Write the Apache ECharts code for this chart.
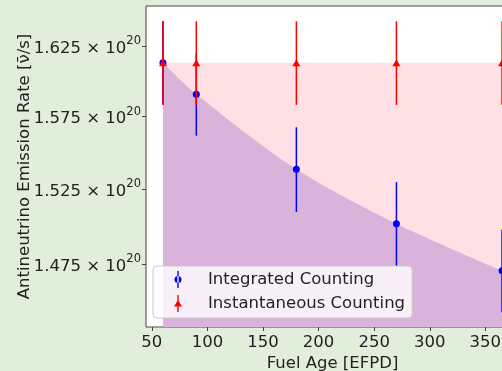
<!DOCTYPE html>
<html>
<head>
<meta charset="utf-8">
<script src="https://cdn.jsdelivr.net/npm/echarts@6/dist/echarts.min.js"></script>
<style>
html, body { margin: 0; padding: 0; background: #e1eedb; }
#chart { width: 502px; height: 371px; }
</style>
</head>
<body>
<div id="chart"></div>
<script>
// values in units of 1e20 antineutrinos / s
var fuelAge = [60, 90, 180, 270, 365];
var integrated = [1.6132, 1.5907, 1.5385, 1.5017, 1.4706];
var integratedErr = [0.030, 0.029, 0.029, 0.028, 0.027];
var instantaneous = [1.6132, 1.6132, 1.6132, 1.6132, 1.6132];
var instantaneousErr = [0.030, 0.030, 0.030, 0.030, 0.030];
var xTicks = [50, 100, 150, 200, 250, 300, 350];
var yTicks = [1.475, 1.525, 1.575, 1.625];

var font = 'DejaVu Sans';
var ink = '#222';
var fs = 16.5;

function pairs(vals) {
  return fuelAge.map(function (x, i) { return [x, vals[i]]; });
}

function errorBars(vals, errs, color, z) {
  return {
    type: 'custom',
    z: z,
    silent: true,
    renderItem: function (params, api) {
      var x = api.value(0);
      var lo = api.coord([x, api.value(1)]);
      var hi = api.coord([x, api.value(2)]);
      return {
        type: 'line',
        shape: { x1: lo[0], y1: lo[1], x2: hi[0], y2: hi[1] },
        style: { stroke: color, lineWidth: 1.5 }
      };
    },
    encode: { x: 0, y: [1, 2] },
    data: fuelAge.map(function (x, i) { return [x, vals[i] - errs[i], vals[i] + errs[i]]; })
  };
}

var chart = echarts.init(document.getElementById('chart'));

var option = {
  backgroundColor: '#e1eedb',
  animation: false,
  textStyle: { fontFamily: font },
  grid: {
    left: 146, top: 6, width: 373, height: 321,
    outerBoundsMode: 'none',
    containLabel: false,
    show: true, backgroundColor: '#fff', borderColor: '#444', borderWidth: 1
  },
  legend: {
    orient: 'vertical',
    left: 153, top: 266,
    padding: [5, 7, 6, 21],
    itemWidth: 8, itemHeight: 17, itemGap: 7,
    backgroundColor: 'rgba(255,255,255,0.8)',
    borderColor: '#ccc', borderWidth: 1, borderRadius: 4,
    textStyle: { fontFamily: font, fontSize: fs, color: ink, padding: [0, 0, 0, 21] },
    data: [
      { name: 'Integrated Counting',
        icon: 'path://M3.3,0H4.7V17H3.3Z M0.5,8.5A3.5,3.5 0 1 0 7.5,8.5A3.5,3.5 0 1 0 0.5,8.5Z',
        itemStyle: { color: '#0000ff' } },
      { name: 'Instantaneous Counting',
        icon: 'path://M3.3,0H4.7V17H3.3Z M4,5L8,11.5L0,11.5Z',
        itemStyle: { color: '#ff0000' } }
    ]
  },
  xAxis: {
    type: 'value',
    min: 44.75, max: 380.25,
    name: 'Fuel Age [EFPD]',
    nameLocation: 'middle', nameGap: 28,
    nameMoveOverlap: false,
    nameTextStyle: { fontFamily: font, fontSize: fs, color: ink },
    axisLine: { show: false },
    axisTick: { show: true, length: 4, lineStyle: { color: '#444' }, customValues: xTicks },
    axisLabel: { fontFamily: font, fontSize: fs, color: ink, margin: 7, customValues: xTicks },
    splitLine: { show: false }
  },
  yAxis: {
    type: 'log',
    logBase: 10,
    min: 1.4342, max: 1.6544,
    name: 'Antineutrino Emission Rate [ν̄/s]',
    nameLocation: 'middle', nameGap: 113,
    nameMoveOverlap: false,
    nameTextStyle: { fontFamily: font, fontSize: fs, color: ink },
    axisLine: { show: false },
    axisTick: { show: true, length: 4, lineStyle: { color: '#444' }, customValues: yTicks },
    minorTick: { show: false },
    axisLabel: {
      margin: 5,
      customValues: yTicks,
      formatter: function (v) { return '{m|' + v.toFixed(3) + ' × 10}{e|20}'; },
      rich: {
        m: { fontFamily: font, fontSize: fs, color: ink, lineHeight: 22, verticalAlign: 'bottom' },
        e: { fontFamily: font, fontSize: 11.5, color: ink, lineHeight: 22, verticalAlign: 'top' }
      }
    },
    splitLine: { show: false },
    minorSplitLine: { show: false }
  },
  series: [
    {
      name: 'band',
      type: 'line',
      z: 1,
      silent: true,
      symbol: 'none',
      lineStyle: { width: 0 },
      areaStyle: { color: '#ffe0e5', opacity: 1, origin: 'start' },
      data: pairs(instantaneous)
    },
    {
      name: 'integrated fill',
      type: 'line',
      z: 2,
      silent: true,
      symbol: 'none',
      smooth: 0.3,
      lineStyle: { width: 0 },
      areaStyle: { color: '#d9b3d9', opacity: 1, origin: 'start' },
      data: pairs(integrated)
    },
    errorBars(integrated, integratedErr, '#0000ff', 3),
    {
      name: 'Integrated Counting',
      type: 'scatter',
      z: 4,
      symbol: 'circle',
      symbolSize: 7,
      itemStyle: { color: '#0000ff', opacity: 1 },
      data: pairs(integrated)
    },
    errorBars(instantaneous, instantaneousErr, '#ff0000', 5),
    {
      name: 'Instantaneous Counting',
      type: 'scatter',
      z: 6,
      symbol: 'triangle',
      symbolSize: [8, 7],
      itemStyle: { color: '#ff0000', opacity: 1 },
      data: pairs(instantaneous)
    }
  ]
};

chart.setOption(option);
</script>
</body>
</html>
